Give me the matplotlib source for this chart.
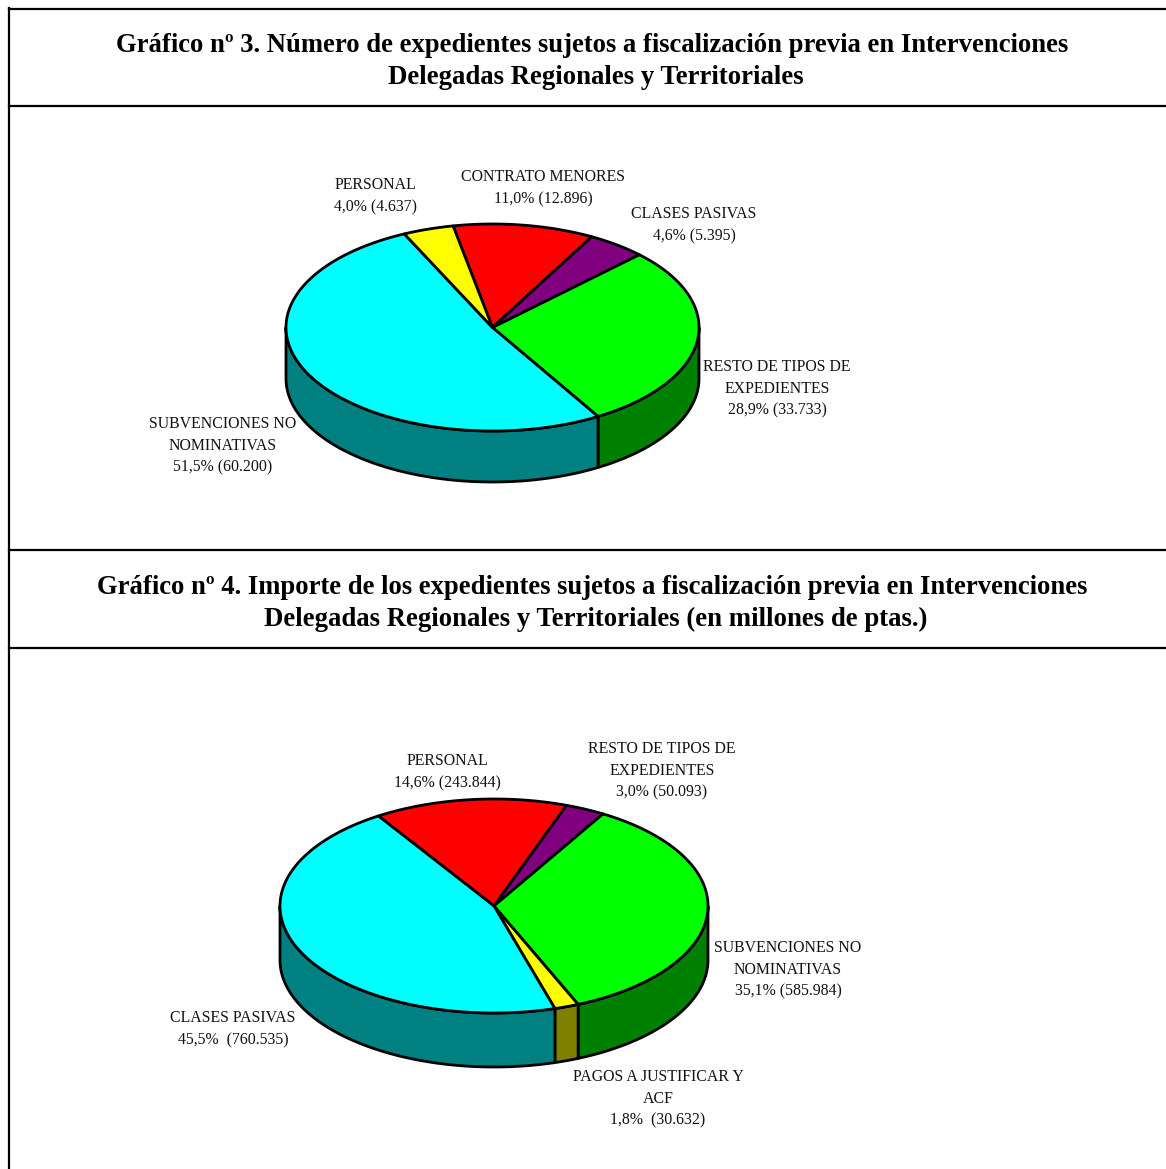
import numpy as np
import matplotlib
matplotlib.use("Agg")
import matplotlib.pyplot as plt

plt.rcParams['font.family'] = ['Liberation Serif', 'DejaVu Serif']

# grafico 3, clockwise starting from the red slice
names_3 = ["CONTRATO MENORES", "CLASES PASIVAS", "RESTO DE TIPOS DE\nEXPEDIENTES",
           "SUBVENCIONES NO\nNOMINATIVAS", "PERSONAL"]
counts_3 = [12896, 5395, 33733, 60200, 4637]
values_3 = ["11,0% (12.896)", "4,6% (5.395)", "28,9% (33.733)", "51,5% (60.200)", "4,0% (4.637)"]

# grafico 4, same order idea
names_4 = ["PERSONAL", "RESTO DE TIPOS DE\nEXPEDIENTES", "SUBVENCIONES NO\nNOMINATIVAS",
           "PAGOS A JUSTIFICAR Y\nACF", "CLASES PASIVAS"]
counts_4 = [243844, 50093, 585984, 30632, 760535]
values_4 = ["14,6% (243.844)", "3,0% (50.093)", "35,1% (585.984)", "1,8%  (30.632)", "45,5%  (760.535)"]

title_3 = ["Gráfico nº 3. Número de expedientes sujetos a fiscalización previa en Intervenciones",
           "Delegadas Regionales y Territoriales"]
title_4 = ["Gráfico nº 4. Importe de los expedientes sujetos a fiscalización previa en Intervenciones",
           "Delegadas Regionales y Territoriales (en millones de ptas.)"]

colors_3 = ["#ff0000", "#800080", "#00ff00", "#00ffff", "#ffff00"]
sides_3 = ["#800000", "#400040", "#008000", "#008080", "#808000"]
colors_4 = ["#ff0000", "#800080", "#00ff00", "#ffff00", "#00ffff"]
sides_4 = ["#800000", "#400040", "#008000", "#808000", "#008080"]


def pie3d(ax, counts, colors, sides, cx, cy, rx, ry, depth, start):
    total = sum(counts)
    edges = start + np.cumsum([0] + counts) / total * 360

    def px(t):
        return cx + rx * np.sin(np.radians(t))

    def py(t):
        return cy - ry * np.cos(np.radians(t))

    # walls first, only the front half of the ellipse shows
    for i in range(len(counts)):
        for off in (-360, 0, 360):
            a = max(edges[i] + off, 90)
            b = min(edges[i + 1] + off, 270)
            if b <= a:
                continue
            t = np.linspace(a, b, 200)
            xs = np.r_[px(t), px(t[::-1])]
            ys = np.r_[py(t), py(t[::-1]) + depth]
            ax.fill(xs, ys, facecolor=sides[i], edgecolor='black', lw=2.0, joinstyle='round', zorder=2)

    for i in range(len(counts)):
        t = np.linspace(edges[i], edges[i + 1], 300)
        xs = np.r_[cx, px(t)]
        ys = np.r_[cy, py(t)]
        ax.fill(xs, ys, facecolor=colors[i], edgecolor='black', lw=2.0, joinstyle='round', zorder=3)


fig = plt.figure(figsize=(11.66, 11.69), dpi=100)
ax = fig.add_axes([0, 0, 1, 1])
ax.set_xlim(0, 1166)
ax.set_ylim(1169, 0)
ax.axis('off')

# table frame
ax.plot([9, 9], [8, 1169], color='black', lw=1.6, zorder=1)
for y in [8.5, 105.5, 550, 648]:
    ax.plot([9, 1166], [y, y], color='black', lw=1.6, zorder=1)

# second title lines sit a little right of the first in the original
for lines, y in [(title_3, 45), (title_4, 587)]:
    ax.text(592, y, lines[0], ha='center', va='center', fontsize=19.2, fontweight='bold')
    ax.text(596, y + 32, lines[1], ha='center', va='center', fontsize=19.3, fontweight='bold')

pie3d(ax, counts_3, colors_3, sides_3, 492.5, 327.5, 206.5, 103.5, 51, -11)
pie3d(ax, counts_4, colors_4, sides_4, 494, 906, 214, 107, 54, -32.7)

label_pos_3 = [(543, 188), (694, 225), (777, 389), (223, 446), (375, 196)]
label_pos_4 = [(447, 772), (662, 771), (788, 970), (658, 1099), (233, 1029)]
for names, vals, pos in [(names_3, values_3, label_pos_3), (names_4, values_4, label_pos_4)]:
    for n, v, (x, y) in zip(names, vals, pos):
        ax.text(x, y, n + "\n" + v, ha='center', va='center', fontsize=11.4, linespacing=1.49,
                color='#111111', zorder=4)

fig.savefig("out.png", dpi=100)
